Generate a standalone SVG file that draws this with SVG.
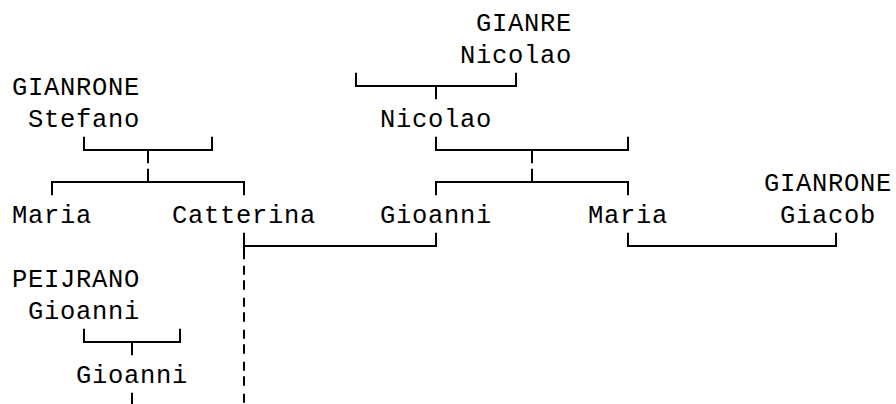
<svg xmlns="http://www.w3.org/2000/svg" width="896" height="404" viewBox="0 0 896 404">
<style>
text{font-family:"Liberation Mono","DejaVu Sans Mono",monospace;font-size:25.5px;letter-spacing:0.7px;fill:#000}
.c line{stroke:#000;stroke-width:2;fill:none}
.c .d{stroke-dasharray:9 5.5 9.5 8}
</style>
<rect width="896" height="404" fill="#fff"/>
<g class="c" id="connectors">
<!-- GIANRE Nicolao -> Nicolao -->
<line x1="356" y1="72.7" x2="356" y2="86"/><line x1="355" y1="86" x2="517" y2="86"/><line x1="516" y1="72.7" x2="516" y2="86"/><line x1="436" y1="86" x2="436" y2="99.3"/>
<!-- Stefano family -->
<line x1="84" y1="136.7" x2="84" y2="150"/><line x1="83" y1="150" x2="213" y2="150"/><line x1="212" y1="136.7" x2="212" y2="150"/><line x1="148" y1="150" x2="148" y2="163.3"/>
<line x1="148" y1="168.7" x2="148" y2="182"/><line x1="51" y1="182" x2="245" y2="182"/><line x1="52" y1="182" x2="52" y2="195.3"/><line x1="244" y1="182" x2="244" y2="195.3"/>
<!-- Nicolao family -->
<line x1="436" y1="136.7" x2="436" y2="150"/><line x1="435" y1="150" x2="629" y2="150"/><line x1="628" y1="136.7" x2="628" y2="150"/><line x1="532" y1="150" x2="532" y2="163.3"/>
<line x1="532" y1="168.7" x2="532" y2="182"/><line x1="435" y1="182" x2="629" y2="182"/><line x1="436" y1="182" x2="436" y2="195.3"/><line x1="628" y1="182" x2="628" y2="195.3"/>
<!-- Catterina - Gioanni -->
<line x1="244" y1="232.7" x2="244" y2="259.3"/><line x1="244" y1="246" x2="437" y2="246"/><line x1="436" y1="232.7" x2="436" y2="246"/>
<line class="d" x1="244" y1="265.7" x2="244" y2="404"/>
<!-- Maria - Giacob -->
<line x1="628" y1="232.7" x2="628" y2="246"/><line x1="627" y1="246" x2="837" y2="246"/><line x1="836" y1="232.7" x2="836" y2="246"/>
<!-- Peijrano -->
<line x1="84" y1="328.7" x2="84" y2="342"/><line x1="83" y1="342" x2="181" y2="342"/><line x1="180" y1="328.7" x2="180" y2="342"/><line x1="132" y1="342" x2="132" y2="355.3"/>
<line x1="132" y1="392.7" x2="132" y2="404"/>
</g>
<g id="n-gianre-nicolao"><text x="476" y="30.8">GIANRE</text><text x="460" y="62.8">Nicolao</text></g>
<g id="n-gianrone-stefano"><text x="12" y="94.8">GIANRONE</text><text x="28" y="126.8">Stefano</text></g>
<g id="n-nicolao"><text x="380" y="126.8">Nicolao</text></g>
<g id="n-gianrone-giacob"><text x="764" y="190.8">GIANRONE</text><text x="780" y="222.8">Giacob</text></g>
<g id="n-maria-1"><text x="12" y="222.8">Maria</text></g>
<g id="n-catterina"><text x="172" y="222.8">Catterina</text></g>
<g id="n-gioanni-1"><text x="380" y="222.8">Gioanni</text></g>
<g id="n-maria-2"><text x="588" y="222.8">Maria</text></g>
<g id="n-peijrano-gioanni"><text x="12" y="286.8">PEIJRANO</text><text x="28" y="318.8">Gioanni</text></g>
<g id="n-gioanni-2"><text x="76" y="382.8">Gioanni</text></g>
</svg>
